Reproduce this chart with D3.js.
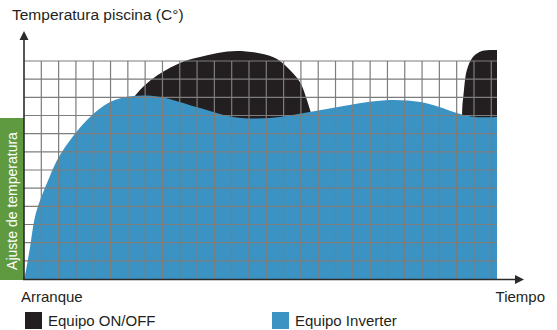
<!DOCTYPE html>
<html>
<head>
<meta charset="utf-8">
<script src="https://cdn.jsdelivr.net/npm/d3@7"></script>
<style>
  body { margin: 0; background: #fff; }
  svg { display: block; font-family: "Liberation Sans", Arial, sans-serif; }
</style>
</head>
<body>
<div id="chart"></div>
<script>
// data, in grid cells (time -> columns, temperature -> rows)
const inverterTime = [0, 0.12, 0.35, 0.69, 1.33, 2.08, 3.64, 4.97, 6.3, 7.86, 10.17, 12.07, 14.2, 16.5, 18.8, 21.1, 22.9, 24.0, 25.2, 26.05, 27.33];
const inverterTemp = [0, 0.5, 1.76, 3.63, 5.28, 6.82, 8.75, 9.74, 10.07, 10.02, 9.41, 8.92, 8.86, 9.19, 9.58, 9.85, 9.74, 9.47, 9.08, 8.92, 8.92];

const onoffTime = [0, 3.24, 5.83, 6.7, 7.57, 9.01, 10.17, 12.3, 14.38, 15.19, 15.94, 16.29, 16.58, 16.98, 18.26, 24.03, 25.07, 25.36, 25.59, 25.94, 26.46, 27.33];
const onoffTemp = [0, 6.0, 9.3, 10.4, 11.12, 11.89, 12.22, 12.55, 12.22, 11.67, 10.84, 10.02, 9.14, 7.92, 7.65, 7.65, 7.92, 9.85, 11.5, 12.22, 12.55, 12.6];

const legendLabels = ['Equipo ON/OFF', 'Equipo Inverter'];
const axisLabels = ['Arranque', 'Tiempo'];
const titleText = 'Temperatura piscina (C°)';
const sideLabel = 'Ajuste de temperatura';

const WIDTH = 557;
const HEIGHT = 330;
const COLS = 27.33;
const ROWS = 12;

const BLUE = '#3a93c3';
const BLACK = '#231f20';
const GREEN = '#5f9a40';
const GRID = '#7d7d7d';
const AXIS = '#2b2b2b';

const svg = d3.select('#chart')
    .append('svg')
        .attr('width', WIDTH)
        .attr('height', HEIGHT);

const X_SCALE = d3.scaleLinear()
    .domain([0, COLS])
    .range([24, 497]);

const Y_SCALE = d3.scaleLinear()
    .domain([0, ROWS])
    .range([279, 61]);

const onoffData = onoffTime.map((t, i) => ({t: t, v: onoffTemp[i]}));
const inverterData = inverterTime.map((t, i) => ({t: t, v: inverterTemp[i]}));

const area = d3.area()
    .x(d => X_SCALE(d.t))
    .y0(Y_SCALE(0))
    .y1(d => Y_SCALE(d.v))
    .curve(d3.curveCatmullRom.alpha(0.5));

// black first, blue covers it
svg.append('path')
    .datum(onoffData)
    .attr('d', area)
    .attr('fill', BLACK);

svg.append('path')
    .datum(inverterData)
    .attr('d', area)
    .attr('fill', BLUE);

// grid
const grid = svg.append('g').attr('stroke', GRID).attr('stroke-width', 1.2);
grid.selectAll('line.v')
    .data(d3.range(1, 28))
    .enter()
    .append('line')
    .attr('x1', d => X_SCALE(d))
    .attr('x2', d => X_SCALE(d))
    .attr('y1', Y_SCALE(ROWS))
    .attr('y2', Y_SCALE(0));

grid.selectAll('line.h')
    .data(d3.range(1, ROWS + 1))
    .enter()
    .append('line')
    .attr('x1', X_SCALE(0))
    .attr('x2', X_SCALE(COLS))
    .attr('y1', d => Y_SCALE(d))
    .attr('y2', d => Y_SCALE(d));

// green side box
svg.append('rect')
    .attr('x', 0)
    .attr('y', 118)
    .attr('width', 24)
    .attr('height', 162)
    .attr('fill', GREEN);

svg.append('text')
    .attr('transform', 'translate(12,201) rotate(-90)')
    .attr('text-anchor', 'middle')
    .attr('dominant-baseline', 'central')
    .attr('fill', '#fff')
    .attr('font-size', '14px')
    .text(sideLabel);

// axes with arrows
svg.append('line')
    .attr('x1', 24).attr('x2', 24)
    .attr('y1', 280).attr('y2', 38)
    .attr('stroke', AXIS).attr('stroke-width', 1.6);
svg.append('path')
    .attr('d', 'M24,31 L19.5,40 L28.5,40 Z')
    .attr('fill', AXIS);

svg.append('line')
    .attr('x1', 23).attr('x2', 516)
    .attr('y1', 279.5).attr('y2', 279.5)
    .attr('stroke', AXIS).attr('stroke-width', 1.6);
svg.append('path')
    .attr('d', 'M524,279.5 L515,275 L515,284 Z')
    .attr('fill', AXIS);

// texts
svg.append('text')
    .attr('x', 12).attr('y', 20)
    .attr('font-size', '15.5px')
    .attr('fill', '#231f20')
    .text(titleText);

svg.append('text')
    .attr('x', 21).attr('y', 302)
    .attr('font-size', '15px')
    .attr('fill', '#231f20')
    .text(axisLabels[0]);

svg.append('text')
    .attr('x', 545).attr('y', 302)
    .attr('text-anchor', 'end')
    .attr('font-size', '15px')
    .attr('fill', '#231f20')
    .text(axisLabels[1]);

// legend
const legendX = [25, 272];
const legendColors = [BLACK, BLUE];
const legend = svg.selectAll('g.legend')
    .data(legendLabels)
    .enter()
    .append('g')
    .attr('transform', (d, i) => 'translate(' + legendX[i] + ',312)');

legend.append('rect')
    .attr('width', 17).attr('height', 17)
    .attr('fill', (d, i) => legendColors[i]);

legend.append('text')
    .attr('x', 23).attr('y', 14)
    .attr('font-size', '15px')
    .attr('fill', '#231f20')
    .text(d => d);
</script>
</body>
</html>
